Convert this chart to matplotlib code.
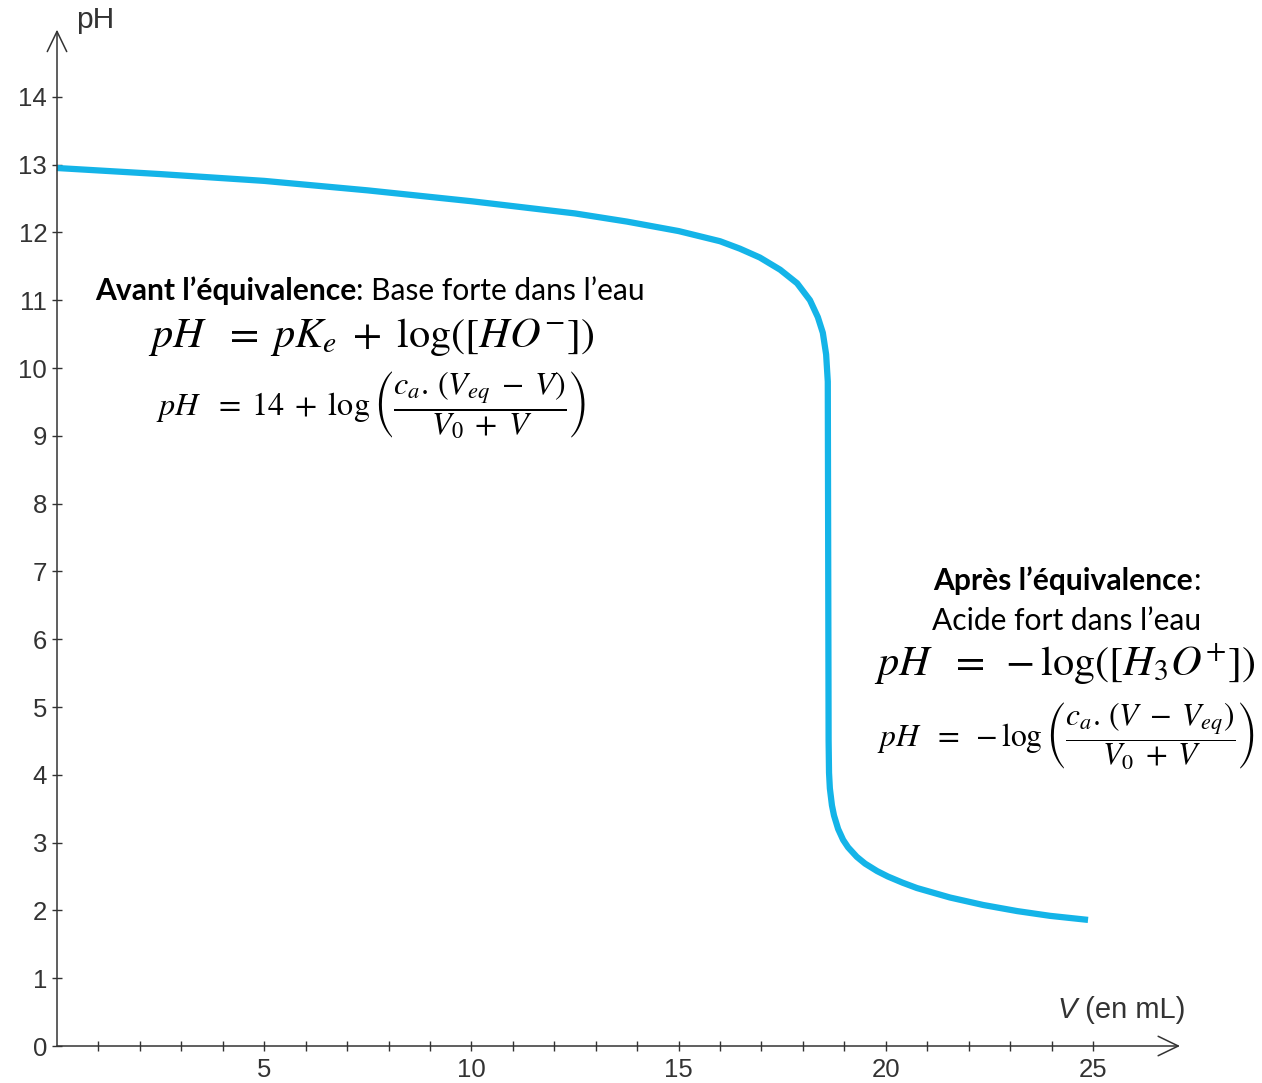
import numpy as np
import matplotlib.pyplot as plt
from matplotlib.ticker import FixedLocator

# Titration curve: pH vs added volume of strong acid (mL)
volume = [0, 2.5, 5, 7.5, 10, 12.5, 13.75, 15, 16.00, 16.48, 16.96, 17.45,
          17.86, 18.17, 18.36, 18.48, 18.56, 18.60, 18.62, 18.63, 18.65,
          18.70, 18.75, 18.85, 18.97, 19.09, 19.30, 19.50, 19.79, 20.05,
          20.40, 20.75, 21.55, 22.35, 23.17, 23.96, 24.88]
ph = [12.95, 12.86, 12.76, 12.62, 12.46, 12.28, 12.16, 12.02, 11.87, 11.76,
      11.63, 11.45, 11.25, 11.00, 10.75, 10.52, 10.20, 9.80, 4.50, 4.03,
      3.80, 3.55, 3.40, 3.20, 3.04, 2.93, 2.79, 2.69, 2.58, 2.50,
      2.41, 2.33, 2.19, 2.08, 1.99, 1.92, 1.86]

y_ticks = list(range(0, 15))
x_major = [5, 10, 15, 20, 25]
x_minor = list(range(1, 26))

axis_col = '#333333'
curve_col = '#14b4e8'

fig = plt.figure(figsize=(12.62, 10.83), dpi=100)
ax = fig.add_axes([0, 0, 1, 1])
ax.set_xlim(-1.3755, 29.078)
ax.set_ylim(-0.5457, 15.428)

ax.plot(volume, ph, color=curve_col, lw=4.5, solid_capstyle='butt',
        solid_joinstyle='round', zorder=3)

# axes through the origin; lines drawn as open arrows
for side in ['top', 'right']:
    ax.spines[side].set_visible(False)
for side in ['left', 'bottom']:
    ax.spines[side].set_position(('data', 0))
    ax.spines[side].set_visible(False)

arrow = dict(arrowstyle='->,head_length=1.45,head_width=0.7', color=axis_col,
             lw=1.1, shrinkA=0, shrinkB=0)
ax.annotate('', xy=(0, 14.99), xytext=(0, 0), arrowprops=arrow)
ax.annotate('', xy=(27.1, 0), xytext=(0, 0), arrowprops=arrow)

ax.set_yticks(y_ticks)
ax.set_xticks(x_major)
ax.xaxis.set_minor_locator(FixedLocator(x_minor))
ax.tick_params(which='both', direction='inout', length=7.2, width=1.0,
               color=axis_col)
ax.tick_params(axis='y', pad=3.5, labelsize=18.5, labelcolor=axis_col)
ax.tick_params(axis='x', pad=5, labelsize=18.5, labelcolor=axis_col)
for lab in ax.get_xticklabels() + ax.get_yticklabels():
    lab.set_fontfamily('Liberation Sans')

ax.text(0.46, 15.01, 'pH', fontsize=21.5, color=axis_col,
        family='Liberation Sans', va='baseline', ha='left')
xl = ax.text(24.15, 0.41, 'V', fontsize=21, color=axis_col, style='italic',
             family='Liberation Sans', va='baseline', ha='left')
ax.annotate(' (en mL)', xy=(1, 0), xycoords=xl, fontsize=21,
            color=axis_col, family='Liberation Sans', va='bottom', ha='left')

plt.rcParams['mathtext.fontset'] = 'stix'
txt_font = 'Lato'
txt_size = 21.6

# before equivalence
t1 = ax.text(0.917, 11.0, 'Avant l\u2019équivalence', fontsize=txt_size,
             family=txt_font, weight='bold', va='baseline', ha='left')
ax.annotate(': Base forte dans l\u2019eau', xy=(1, 0), xycoords=t1,
            fontsize=txt_size, family=txt_font, va='bottom', ha='left')
ax.text(7.58, 10.46, r'$pH\ \ =\; pK_e \;+\; \log([HO^{-}])$', fontsize=30.5,
        ha='center', va='center')
ax.text(7.58, 9.45,
        r'$pH\ \ =\; 14 \;+\; \log\left(\dfrac{c_a.\,(V_{eq} \;-\; V)}'
        r'{V_0 \;+\; V}\right)$',
        fontsize=23.2, ha='center', va='center')

# after equivalence
t2 = ax.text(21.14, 6.73, 'Après l\u2019équivalence', fontsize=txt_size,
             family=txt_font, weight='bold', va='baseline', ha='left')
ax.annotate(':', xy=(1, 0), xycoords=t2, fontsize=txt_size, family=txt_font,
            va='bottom', ha='left')
ax.text(24.35, 6.14, 'Acide fort dans l\u2019eau', fontsize=txt_size,
        family=txt_font, va='baseline', ha='center')
ax.text(24.32, 5.62, r'$pH\ \ =\; -\log([H_3O^{+}])$', fontsize=30.5,
        ha='center', va='center')
ax.text(24.35, 4.56,
        r'$pH\ \ =\; -\log\left(\dfrac{c_a.\,(V \;-\; V_{eq})}'
        r'{V_0 \;+\; V}\right)$',
        fontsize=22.8, ha='center', va='center')

fig.savefig('out.png', dpi=100, facecolor='white')
